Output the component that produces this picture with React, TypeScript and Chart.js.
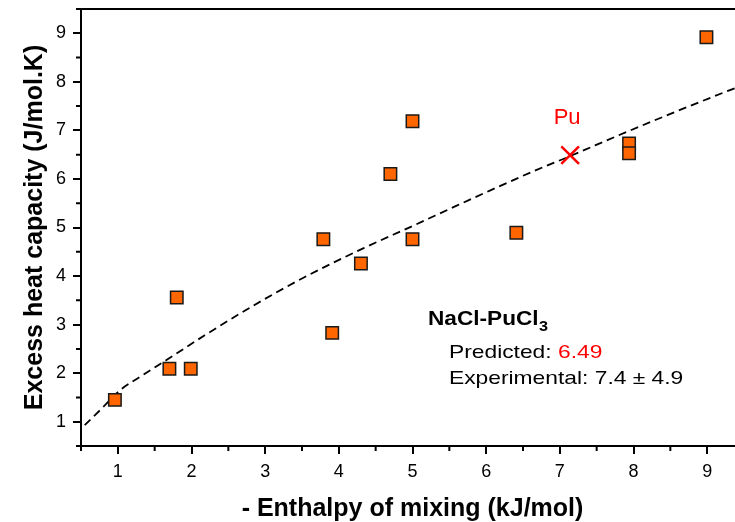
import React, { useEffect, useRef } from 'react';
import { Chart, registerables } from 'chart.js';

Chart.register(...registerables);

const FONT = "'Liberation Sans', Arial, Helvetica, sans-serif";

// Measured data (orange squares)
const measuredX = [0.96, 1.70, 1.99, 1.80, 3.79, 3.91, 4.30, 4.70, 5.00, 5.00, 6.41, 7.94, 7.94, 8.99];
const measuredY = [1.45, 2.09, 2.09, 3.56, 4.76, 2.83, 4.26, 6.10, 7.19, 4.76, 4.89, 6.73, 6.53, 8.92];

// Predicted Pu point
const puX = [7.14];
const puY = [6.49];

// Dashed trend curve
const fitX = [0.55, 0.8, 1.03, 1.35, 1.66, 2.18, 2.85, 3.5, 4.33, 5.0, 5.6, 6.05, 6.66, 7.14, 7.8, 8.5, 9.31, 9.5];
const fitY = [0.93, 1.3, 1.65, 1.97, 2.27, 2.78, 3.4, 3.95, 4.57, 5.03, 5.45, 5.76, 6.17, 6.47, 6.9, 7.34, 7.83, 7.94];

// Tick labels
const xTicks = [1, 2, 3, 4, 5, 6, 7, 8, 9];
const yTicks = [1, 2, 3, 4, 5, 6, 7, 8, 9];
const xMinor = [0.5, 1.5, 2.5, 3.5, 4.5, 5.5, 6.5, 7.5, 8.5, 9.5];
const yMinor = [0.5, 1.5, 2.5, 3.5, 4.5, 5.5, 6.5, 7.5, 8.5, 9.5];

const xTitle = '- Enthalpy of mixing (kJ/mol)';
const yTitle = 'Excess heat capacity (J/mol.K)';
const puLabel = 'Pu';
const noteTitle = 'NaCl-PuCl';
const noteSub = '3';
const predictedLabel = 'Predicted: ';
const predictedValue = '6.49';
const experimentalLabel = 'Experimental: 7.4 \u00b1 4.9';
const noteAnchor = { x: 5.21, y: 2.99 };

const framePlugin = {
  id: 'frameAndNotes',
  afterDraw(chart: any) {
    const { ctx, chartArea: a, scales } = chart;
    const xs = scales.x;
    const ys = scales.y;
    ctx.save();
    ctx.strokeStyle = '#000';
    ctx.lineWidth = 2;
    ctx.beginPath();
    ctx.moveTo(a.left, a.top);
    ctx.lineTo(a.right + 2, a.top);
    ctx.stroke();
    ctx.beginPath();
    for (const v of xMinor) {
      const p = xs.getPixelForValue(v);
      ctx.moveTo(p, a.bottom);
      ctx.lineTo(p, a.bottom + 5);
    }
    for (const v of yMinor) {
      const p = ys.getPixelForValue(v);
      ctx.moveTo(a.left, p);
      ctx.lineTo(a.left - 5, p);
    }
    ctx.stroke();

    const stretched = (text: string, x: number, y: number, sx: number) => {
      ctx.save();
      ctx.translate(x, y);
      ctx.scale(sx, 1);
      ctx.fillText(text, 0, 0);
      ctx.restore();
      return ctx.measureText(text).width * sx;
    };

    // Pu label
    const px = xs.getPixelForValue(puX[0]);
    const py = ys.getPixelForValue(puY[0]);
    ctx.fillStyle = '#ff0000';
    ctx.font = `22px ${FONT}`;
    ctx.textAlign = 'center';
    ctx.textBaseline = 'alphabetic';
    ctx.fillText(puLabel, px - 3, py - 31);

    // Note
    ctx.textAlign = 'left';
    const nx = xs.getPixelForValue(noteAnchor.x);
    const ny = ys.getPixelForValue(noteAnchor.y);
    ctx.fillStyle = '#000';
    ctx.font = `bold 19.5px ${FONT}`;
    const w = stretched(noteTitle, nx, ny, 1.16);
    ctx.font = `bold 14px ${FONT}`;
    stretched(noteSub, nx + w + 0.5, ny + 6, 1.16);

    ctx.font = `19px ${FONT}`;
    const w2 = stretched(predictedLabel, nx + 21, ny + 33, 1.2);
    ctx.fillStyle = '#ff0000';
    stretched(predictedValue, nx + 21 + w2, ny + 33, 1.2);
    ctx.fillStyle = '#000';
    stretched(experimentalLabel, nx + 21, ny + 59, 1.2);
    ctx.restore();
  },
};

export default function App() {
  const ref = useRef<HTMLCanvasElement>(null);

  useEffect(() => {
    if (!ref.current) return;
    const chart = new Chart(ref.current, {
      type: 'scatter',
      data: {
        datasets: [
          {
            label: 'Measured',
            data: measuredX.map((x, i) => ({ x, y: measuredY[i] })),
            pointStyle: 'rect',
            pointRadius: 8.8,
            pointHoverRadius: 8.8,
            backgroundColor: '#ff6600',
            borderColor: '#1a1a1a',
            borderWidth: 1.5,
          },
          {
            label: 'Pu',
            data: puX.map((x, i) => ({ x, y: puY[i] })),
            pointStyle: 'crossRot',
            pointRadius: 12.5,
            pointHoverRadius: 12.5,
            borderColor: '#ff0000',
            backgroundColor: '#ff0000',
            borderWidth: 2.5,
          },
          {
            label: 'Fit',
            data: fitX.map((x, i) => ({ x, y: fitY[i] })),
            showLine: true,
            borderColor: '#000',
            borderWidth: 1.8,
            borderDash: [8, 5],
            pointRadius: 0,
            pointHoverRadius: 0,
            cubicInterpolationMode: 'monotone',
            fill: false,
          },
        ],
      },
      options: {
        responsive: false,
        animation: false,
        devicePixelRatio: 1,
        events: [],
        layout: { autoPadding: false, padding: { top: 9, right: 16, left: 0, bottom: 0 } },
        plugins: {
          legend: { display: false },
          tooltip: { enabled: false },
          title: { display: false },
        },
        scales: {
          x: {
            type: 'linear',
            min: 0.5,
            max: 9.5,
            afterBuildTicks: (s: any) => {
              s.ticks = xTicks.map((v) => ({ value: v }));
            },
            afterFit: (s: any) => {
              s.height = 76;
              s.paddingLeft = 0;
              s.paddingRight = 0;
            },
            grid: {
              display: true,
              drawOnChartArea: false,
              drawTicks: true,
              tickLength: 8,
              color: '#000',
              lineWidth: 2,
            },
            border: { display: true, color: '#000', width: 2 },
            ticks: {
              color: '#000',
              font: { family: FONT, size: 18 },
              padding: 7,
              maxRotation: 0,
              autoSkip: false,
            },
            title: {
              display: true,
              text: xTitle,
              color: '#000',
              font: { family: FONT, size: 25, weight: 'bold', lineHeight: 1.05 },
              padding: { top: 0, bottom: 0 },
            },
          },
          y: {
            type: 'linear',
            min: 0.5,
            max: 9.5,
            afterBuildTicks: (s: any) => {
              s.ticks = yTicks.map((v) => ({ value: v }));
            },
            afterFit: (s: any) => {
              s.width = 81;
              s.paddingTop = 0;
              s.paddingBottom = 0;
            },
            grid: {
              display: true,
              drawOnChartArea: false,
              drawTicks: true,
              tickLength: 8,
              color: '#000',
              lineWidth: 2,
            },
            border: { display: true, color: '#000', width: 2 },
            ticks: {
              color: '#000',
              font: { family: FONT, size: 18 },
              padding: 7,
              autoSkip: false,
            },
            title: {
              display: true,
              text: yTitle,
              color: '#000',
              font: { family: FONT, size: 25, weight: 'bold' },
              padding: { top: 20, bottom: 0 },
            },
          },
        },
      } as any,
      plugins: [framePlugin],
    });
    return () => chart.destroy();
  }, []);

  return (
    <div
      style={{
        position: 'fixed',
        left: 0,
        top: 0,
        width: 735,
        height: 522,
        overflow: 'hidden',
        background: '#fff',
      }}
    >
      <canvas ref={ref} width={760} height={522} style={{ display: 'block', width: 760, height: 522 }} />
    </div>
  );
}
